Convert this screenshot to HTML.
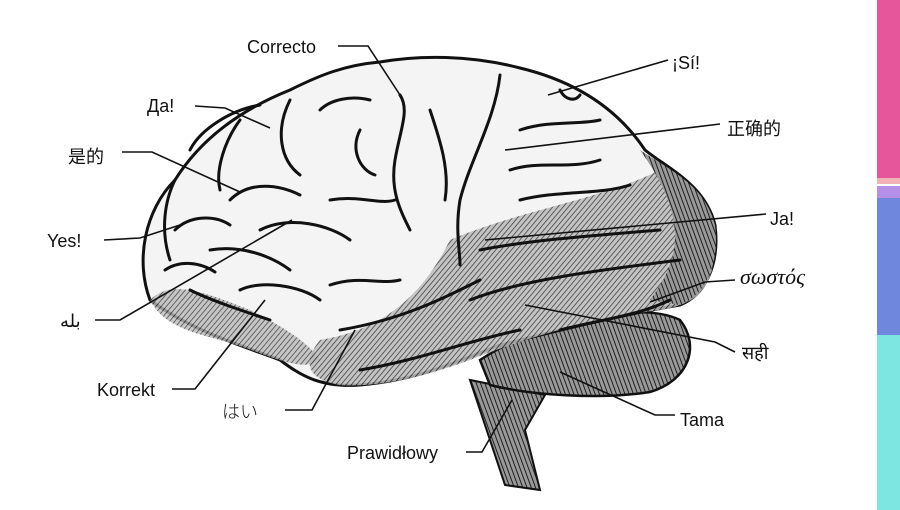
<!DOCTYPE html>
<html><head><meta charset="utf-8"><style>
html,body{margin:0;padding:0;background:#fff;width:900px;height:510px;overflow:hidden}
svg{display:block}
text{font-family:"Liberation Sans","Noto Sans CJK SC",sans-serif;font-size:18px;fill:#111}
</style></head><body>
<svg width="900" height="510" viewBox="0 0 900 510">
<defs>
<pattern id="h" width="4" height="4" patternUnits="userSpaceOnUse" patternTransform="rotate(40)">
<rect width="4" height="4" fill="#bbb"/><line x1="0" y1="0" x2="0" y2="4" stroke="#222" stroke-width="1.6"/></pattern>
<pattern id="h2" width="4" height="4" patternUnits="userSpaceOnUse" patternTransform="rotate(-20)">
<rect width="4" height="4" fill="#999"/><line x1="0" y1="0" x2="0" y2="4" stroke="#111" stroke-width="1.8"/></pattern>
</defs>
<rect x="877" y="0" width="23" height="178" fill="#e6569b"/>
<rect x="877" y="178" width="23" height="6" fill="#f2b3b8"/>
<rect x="877" y="186" width="23" height="12" fill="#b491e6"/>
<rect x="877" y="198" width="23" height="137" fill="#6f87dc"/>
<rect x="877" y="335" width="23" height="175" fill="#7de6e0"/>
<path d="M470,380 L505,485 L540,490 L525,430 L545,395 Z" fill="url(#h2)" stroke="#111" stroke-width="2"/>
<path d="M480,360 C540,320 640,300 680,320 C700,345 690,380 650,392 C600,400 530,395 490,385 Z" fill="url(#h2)" stroke="#111" stroke-width="2.5"/>
<path d="M150,300 C135,260 145,210 175,180 C200,140 240,110 290,90 C320,75 345,65 380,62 C420,55 470,55 520,68 C570,80 615,105 645,150 C670,170 705,185 715,225 C720,265 705,295 680,305 C620,315 560,330 500,345 C460,360 420,380 360,385 C320,388 300,375 280,360 C240,345 190,330 150,300 Z" fill="#f4f4f4" stroke="#111" stroke-width="3"/>
<path d="M450,240 C520,210 600,200 660,170 C700,185 715,225 712,270 C705,295 690,305 660,310 C590,318 520,340 470,360 C430,375 380,388 340,385 C310,380 300,365 320,340 C380,330 420,300 450,240 Z" fill="url(#h)" opacity="0.85"/>
<path d="M150,300 C170,280 200,290 250,310 C290,330 310,345 320,360 C300,375 260,350 220,340 C180,330 160,320 150,300 Z" fill="url(#h)" opacity="0.8"/>
<path d="M640,150 C670,170 705,185 715,225 C720,265 705,295 680,305 L650,300 C680,260 690,220 640,150 Z" fill="url(#h2)"/>
<g fill="none" stroke="#111" stroke-width="3" stroke-linecap="round">
<path d="M400,95 C410,110 400,130 395,160 C390,190 400,210 410,230"/>
<path d="M500,75 C495,120 470,160 460,200 C455,230 460,250 460,265"/>
<path d="M360,130 C350,150 360,170 375,175"/>
<path d="M230,200 C250,180 280,185 300,195"/>
<path d="M260,230 C290,215 330,225 350,240"/>
<path d="M210,250 C240,245 270,255 290,270"/>
<path d="M190,150 C200,130 230,110 260,105"/>
<path d="M240,290 C260,280 300,285 320,300"/>
<path d="M330,285 C360,275 380,285 400,280"/>
<path d="M520,130 C550,120 580,125 600,120"/>
<path d="M510,170 C540,160 570,170 600,160"/>
<path d="M480,250 C530,240 600,235 660,230"/>
<path d="M470,300 C520,280 600,270 680,260"/>
<path d="M340,330 C400,320 440,300 480,280"/>
<path d="M360,370 C420,360 470,340 520,330"/>
<path d="M175,230 C190,215 215,215 230,225"/>
<path d="M165,270 C180,260 200,262 215,272"/>
<path d="M560,90 C565,100 575,102 580,95"/>
<path d="M240,120 C225,140 215,170 220,190"/>
<path d="M290,100 C275,130 280,160 300,175"/>
<path d="M320,110 C330,100 350,95 370,100"/>
<path d="M430,110 C440,140 450,170 445,200"/>
<path d="M520,200 C560,190 600,195 630,185"/>
<path d="M175,180 C165,200 160,230 170,260"/>
<path d="M190,290 C210,300 240,310 270,320"/>
<path d="M560,330 C600,320 640,315 670,300"/>
<path d="M330,200 C360,195 380,205 395,200"/>
</g>
<g fill="none" stroke="#111" stroke-width="1.6">
<path d="M338,46 L368,46 L400,95"/>
<path d="M195,106 L225,108 L270,128"/>
<path d="M122,152 L152,152 L240,192"/>
<path d="M104,240 L140,238 L180,225"/>
<path d="M95,320 L120,320 L292,220"/>
<path d="M172,389 L195,389 L265,300"/>
<path d="M285,410 L312,410 L355,330"/>
<path d="M466,452 L482,452 L512,400"/>
<path d="M668,60 L548,95"/>
<path d="M720,124 L505,150"/>
<path d="M766,214 L485,240"/>
<path d="M735,280 L705,282 L650,302"/>
<path d="M735,352 L715,342 L525,305"/>
<path d="M675,415 L655,415 L560,372"/>
</g>
<text x="247" y="53">Correcto</text>
<text x="147" y="112">Да!</text>
<text x="68" y="163">是的</text>
<text x="47" y="247">Yes!</text>
<text x="60" y="327" style="font-family:'DejaVu Sans',sans-serif">بله</text>
<text x="97" y="396">Korrekt</text>
<text x="222" y="418" style="font-family:'Noto Sans CJK JP',sans-serif;font-weight:300">はい</text>
<text x="347" y="459">Prawidłowy</text>
<text x="672" y="69">¡Sí!</text>
<text x="727" y="135">正确的</text>
<text x="770" y="225">Ja!</text>
<text x="740" y="284" style="font-family:'Liberation Serif',serif;font-style:italic;font-size:22px">σωστός</text>
<text x="742" y="359" style="font-family:'DejaVu Sans',sans-serif">सही</text>
<text x="680" y="426">Tama</text>
</svg>
</body></html>
